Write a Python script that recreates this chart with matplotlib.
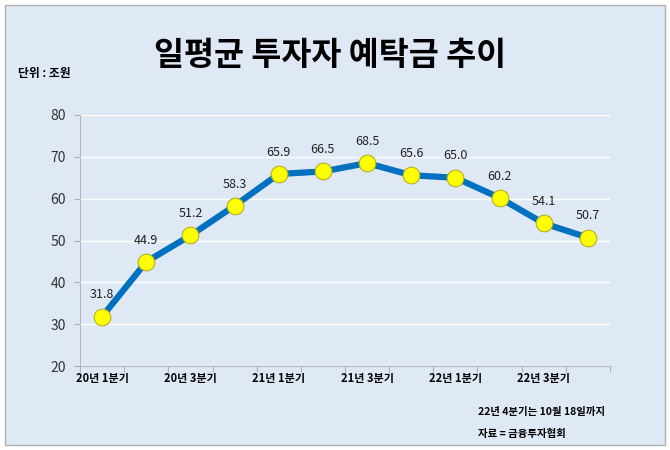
import matplotlib.pyplot as plt
import matplotlib.patches as mpatches
import numpy as np

plt.rcParams['font.family'] = ['Noto Sans CJK KR', 'DejaVu Sans']

quarters = ["20년 1분기", "20년 2분기", "20년 3분기", "20년 4분기",
            "21년 1분기", "21년 2분기", "21년 3분기", "21년 4분기",
            "22년 1분기", "22년 2분기", "22년 3분기", "22년 4분기"]
deposits = [31.8, 44.9, 51.2, 58.3, 65.9, 66.5, 68.5, 65.6, 65.0, 60.2, 54.1, 50.7]
yticks = [20, 30, 40, 50, 60, 70, 80]

bg = "#dfe9f6"
line_blue = "#0070c0"

fig = plt.figure(figsize=(6.7, 4.5), dpi=100)
fig.patch.set_facecolor("white")

# framed light blue panel
panel = mpatches.Rectangle((5 / 670, 5 / 450), 660 / 670, 440 / 450,
                           transform=fig.transFigure, facecolor=bg,
                           edgecolor="#b0b0b0", linewidth=1.0, zorder=-10)
fig.patches.append(panel)

ax = fig.add_axes([80 / 670, 1 - 366 / 450, 530 / 670, 251 / 450])
ax.set_facecolor("none")
ax.set_zorder(5)

x = np.arange(len(quarters))
ax.plot(x, deposits, color=line_blue, linewidth=4.5, marker="o",
        markersize=12, markerfacecolor="#ffff00", markeredgecolor="#b5b020",
        markeredgewidth=0.8, zorder=3, solid_joinstyle="miter")

for xi, v in zip(x, deposits):
    ax.annotate(f"{v:.1f}", (xi, v), xytext=(0, 11), textcoords="offset points",
                ha="center", va="bottom", fontsize=9, color="#222222")

ax.set_xlim(-0.5, len(quarters) - 0.5)
ax.set_ylim(20, 80)
ax.set_yticks(yticks)
ax.set_yticklabels([str(t) for t in yticks], fontsize=10, color="#333333")
ax.yaxis.grid(True, color="white", linewidth=1.0)
ax.set_axisbelow(True)

# category boundary ticks, labels on every other quarter
ax.set_xticks(np.arange(-0.5, len(quarters), 1.0))
ax.set_xticklabels([])
ax.set_xticks(x[::2], minor=True)
ax.set_xticklabels(quarters[::2], minor=True, fontsize=8, fontweight="bold",
                   color="black")
ax.tick_params(axis="x", which="minor", length=0, pad=4)
ax.tick_params(axis="x", which="major", length=4, color="#b0b0b0")
ax.tick_params(axis="y", length=4, color="#b0b0b0", pad=6)

for side in ["top", "right"]:
    ax.spines[side].set_visible(False)
ax.spines["left"].set_color("#b8b8b8")
ax.spines["bottom"].set_color("#b8b8b8")

fig.text(330 / 670, 1 - 55 / 450, "일평균 투자자 예탁금 추이", ha="center",
         va="center", fontsize=23.5, fontweight="bold", color="black")
fig.text(18 / 670, 1 - 73 / 450, "단위 : 조원", ha="left", va="center",
         fontsize=8.5, fontweight="bold", color="black")
fig.text(478 / 670, 1 - 412 / 450, "22년 4분기는 10월 18일까지", ha="left",
         va="center", fontsize=7.5, fontweight="bold", color="black")
fig.text(478 / 670, 1 - 434 / 450, "자료 = 금융투자협회", ha="left",
         va="center", fontsize=7.5, fontweight="bold", color="black")

fig.savefig("out.png", dpi=100)
